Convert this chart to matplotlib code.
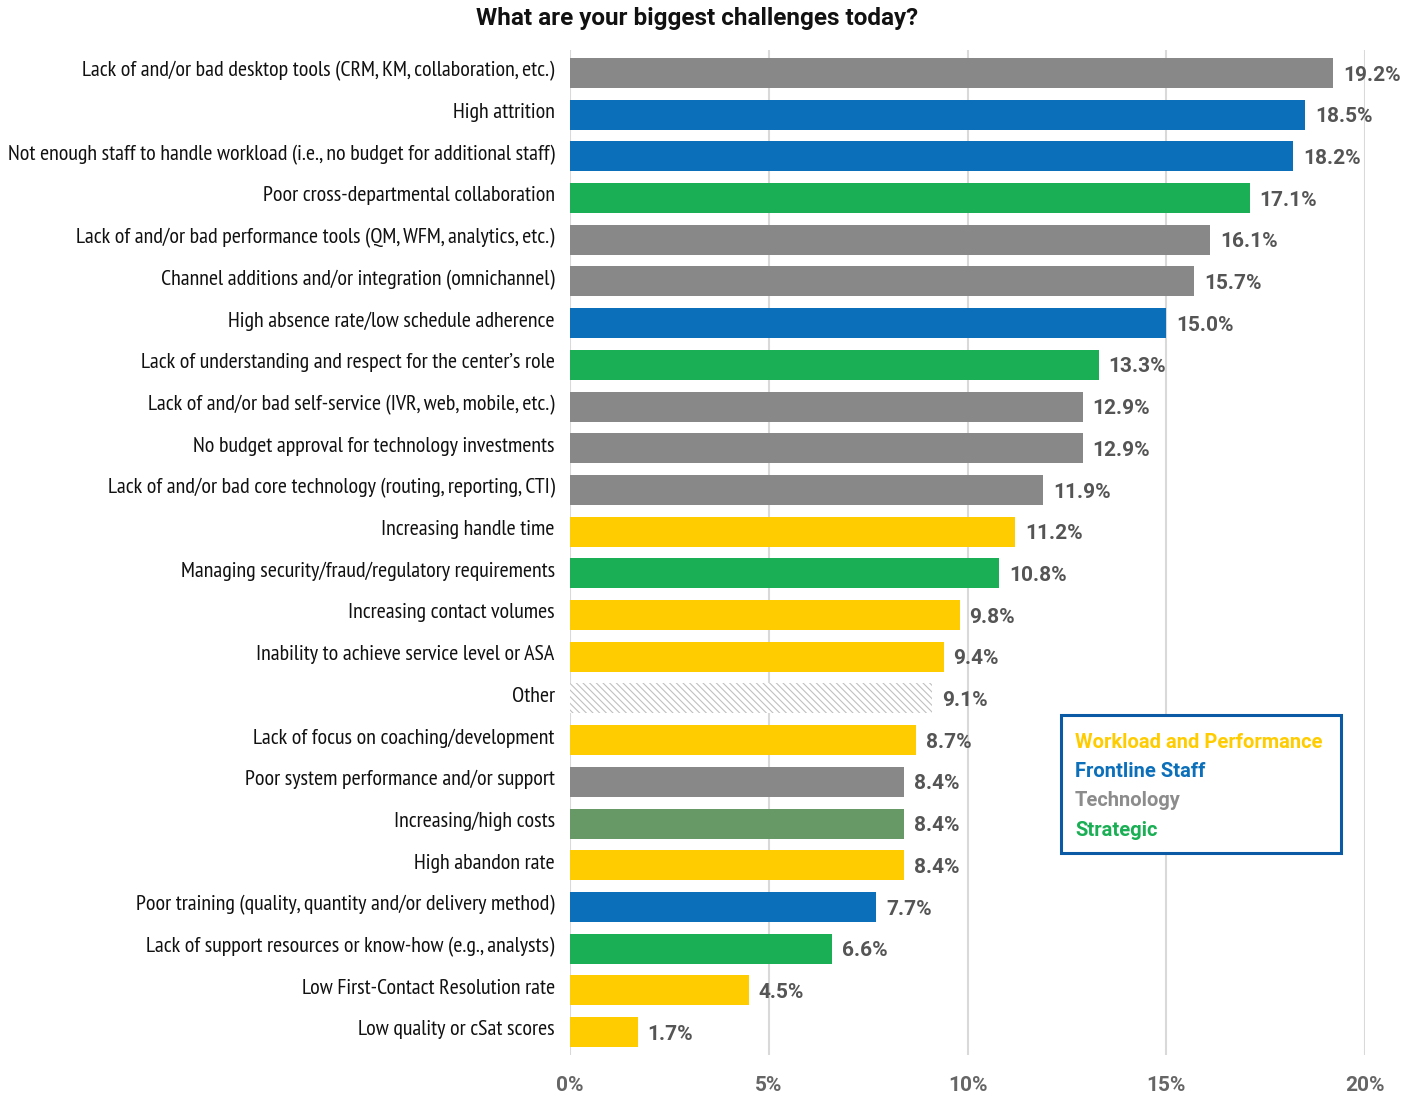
import matplotlib
matplotlib.use("Agg")
import numpy as np
from matplotlib import pyplot as plt
from matplotlib.patches import Rectangle

categories = [
    "Lack of and/or bad desktop tools (CRM, KM, collaboration, etc.)",
    "High attrition",
    "Not enough staff to handle workload (i.e., no budget for additional staff)",
    "Poor cross-departmental collaboration",
    "Lack of and/or bad performance tools (QM, WFM, analytics, etc.)",
    "Channel additions and/or integration (omnichannel)",
    "High absence rate/low schedule adherence",
    "Lack of understanding and respect for the center\u2019s role",
    "Lack of and/or bad self-service (IVR, web, mobile, etc.)",
    "No budget approval for technology investments",
    "Lack of and/or bad core technology (routing, reporting, CTI)",
    "Increasing handle time",
    "Managing security/fraud/regulatory requirements",
    "Increasing contact volumes",
    "Inability to achieve service level or ASA",
    "Other",
    "Lack of focus on coaching/development",
    "Poor system performance and/or support",
    "Increasing/high costs",
    "High abandon rate",
    "Poor training (quality, quantity and/or delivery method)",
    "Lack of support resources or know-how (e.g., analysts)",
    "Low First-Contact Resolution rate",
    "Low quality or cSat scores",
]
values = [19.2, 18.5, 18.2, 17.1, 16.1, 15.7, 15.0, 13.3, 12.9, 12.9, 11.9, 11.2,
          10.8, 9.8, 9.4, 9.1, 8.7, 8.4, 8.4, 8.4, 7.7, 6.6, 4.5, 1.7]
groups = ["tech", "staff", "staff", "strat", "tech", "tech", "staff", "strat",
          "tech", "tech", "tech", "work", "strat", "work", "work", "other",
          "work", "tech", "cost", "work", "staff", "strat", "work", "work"]

colors = {"tech": "#888888", "staff": "#0b6fba", "strat": "#1aaf54",
          "work": "#ffcc00", "cost": "#669966", "other": "white"}

legend_items = [("Workload and Performance", "#ffcc00"),
                ("Frontline Staff", "#0b6fba"),
                ("Technology", "#8c8c8c"),
                ("Strategic", "#1aaf54")]

label_font = ["PT Sans Narrow", "DejaVu Sans"]
num_font = ["Roboto", "DejaVu Sans"]

plt.rcParams["hatch.color"] = "#c0c0c0"
plt.rcParams["hatch.linewidth"] = 0.8

fig = plt.figure(figsize=(14.18, 10.99), dpi=100)
ax = fig.add_axes([570 / 1418, 1 - 1055 / 1099, (1365 - 570) / 1418, (1055 - 50) / 1099])

y = np.arange(len(categories))
for i, (v, g) in enumerate(zip(values, groups)):
    if g == "other":
        ax.barh(i, v, height=0.72, color="white", edgecolor="#c0c0c0",
                hatch="\\\\\\\\\\", linewidth=0, zorder=2)
    else:
        ax.barh(i, v, height=0.72, color=colors[g], zorder=2)
    ax.text(v + 0.25, i + 0.05, "{:.1f}%".format(v), va="center", ha="left",
            fontsize=15, color="#555555", fontweight="bold", family=num_font)

ax.set_xlim(0, 20)
ax.set_ylim(23.55, -0.55)
ax.set_yticks(y - 0.1)
ax.set_yticklabels(categories, family=label_font, fontsize=15.8, color="#111111")
ax.set_xticks([0, 5, 10, 15, 20])
ax.set_xticklabels(["0%", "5%", "10%", "15%", "20%"], fontsize=15,
                   color="#666666", fontweight="bold", family=num_font)
ax.tick_params(axis="both", length=0)
ax.tick_params(axis="y", pad=11)
ax.tick_params(axis="x", pad=15)
ax.grid(axis="x", color="#d9d9d9", linewidth=1.5, zorder=0)
for s in ax.spines.values():
    s.set_visible(False)

fig.text(697 / 1418, 1 - 19 / 1099, "What are your biggest challenges today?",
         ha="center", va="center", fontsize=17.5, fontweight="bold", color="#111111",
         family=num_font)

# legend box
fig.patches.append(Rectangle((1061 / 1418, 1 - 853 / 1099), 280 / 1418, 138 / 1099,
                             transform=fig.transFigure, facecolor="white",
                             edgecolor="#0b5aa5", linewidth=2.2, zorder=5))
for k, (txt, col) in enumerate(legend_items):
    fig.text(1075 / 1418, 1 - (742 + 29.5 * k) / 1099, txt, ha="left", va="center",
             fontsize=14.5, color=col, fontweight="bold", family=num_font, zorder=6)

fig.savefig("out.png", dpi=100)
